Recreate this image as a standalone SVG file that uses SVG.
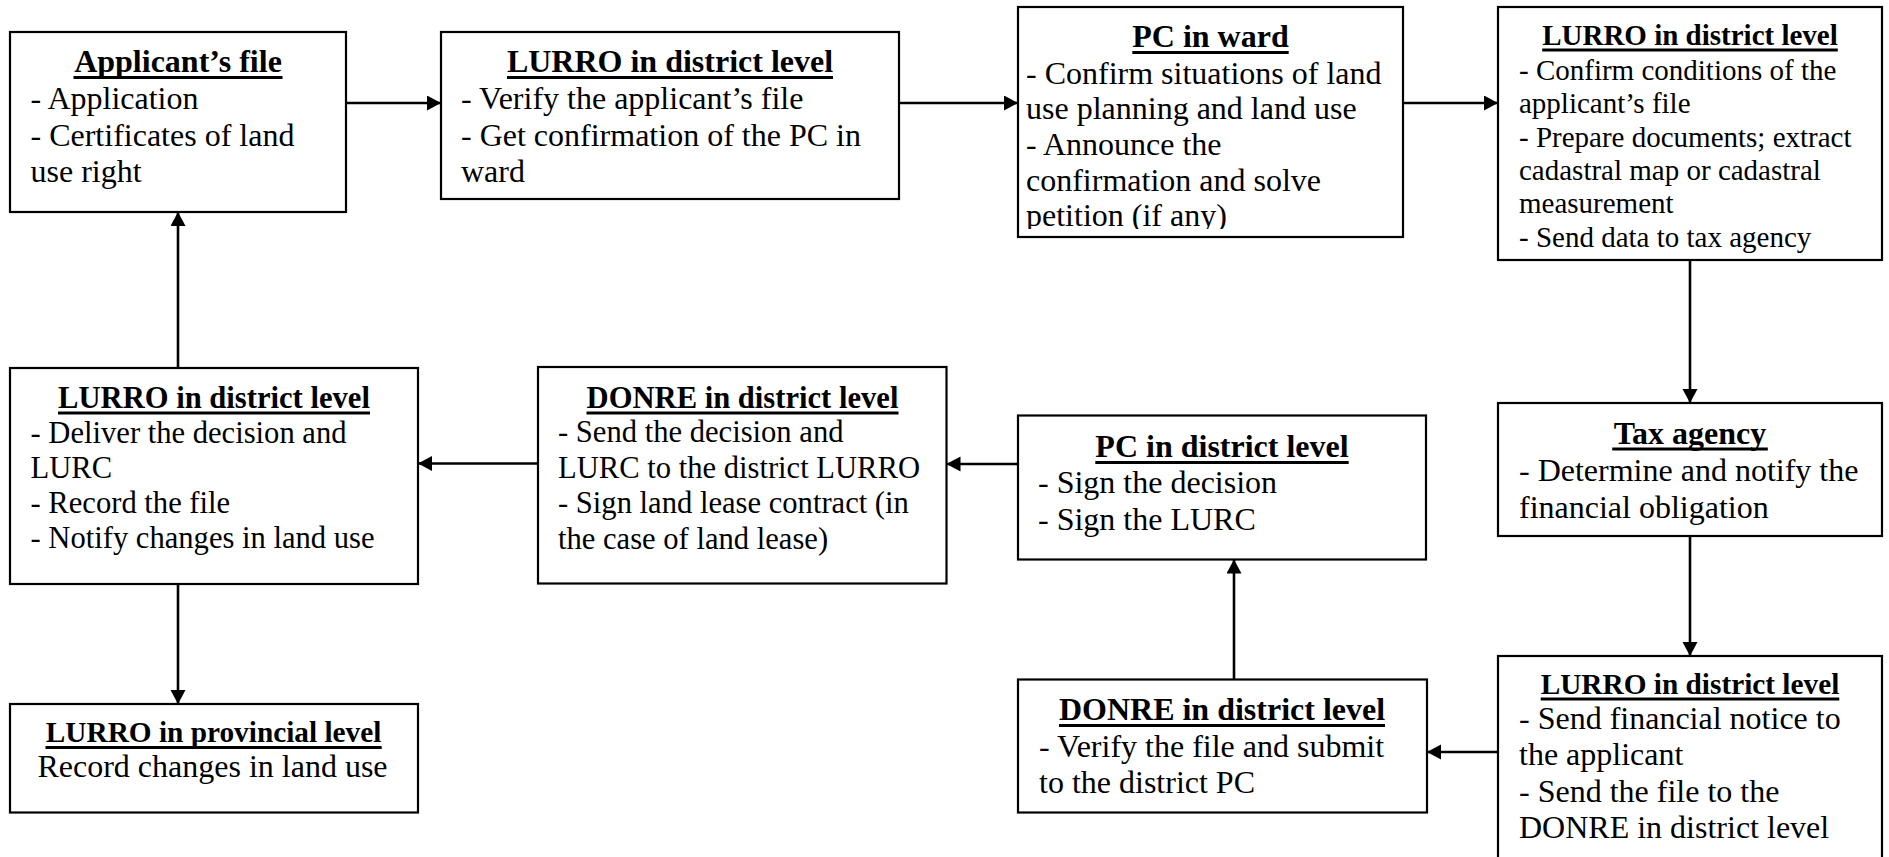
<svg xmlns="http://www.w3.org/2000/svg" width="1889" height="857" viewBox="0 0 1889 857">
<style>
.box{fill:#fff;stroke:#000;stroke-width:2.2}
.t{font-family:"Liberation Serif","Times New Roman",serif;font-weight:bold;text-anchor:middle;fill:#000}
.b{font-family:"Liberation Serif","Times New Roman",serif;fill:#000}
.u{stroke:#000;stroke-width:3}
.c{stroke:#000;stroke-width:2.6;fill:none}
</style>
<defs>
<marker id="ah" markerUnits="userSpaceOnUse" markerWidth="15" markerHeight="16" refX="14" refY="7.5" orient="auto">
<path d="M0,0 L14,7.5 L0,15 z" fill="#000"/>
</marker>
<clipPath id="clip3"><rect x="1018" y="7" width="385" height="222"/></clipPath>
</defs>
<rect width="1889" height="857" fill="#fff"/>

<g id="connectors">
<line class="c" x1="346" y1="103" x2="441" y2="103" marker-end="url(#ah)"/>
<line class="c" x1="899" y1="103" x2="1018" y2="103" marker-end="url(#ah)"/>
<line class="c" x1="1403" y1="103" x2="1498" y2="103" marker-end="url(#ah)"/>
<line class="c" x1="1690" y1="260" x2="1690" y2="403" marker-end="url(#ah)"/>
<line class="c" x1="1690" y1="536" x2="1690" y2="656" marker-end="url(#ah)"/>
<line class="c" x1="1498" y1="752" x2="1427" y2="752" marker-end="url(#ah)"/>
<line class="c" x1="1234" y1="679.5" x2="1234" y2="559.5" marker-end="url(#ah)"/>
<line class="c" x1="1018" y1="464" x2="946.5" y2="464" marker-end="url(#ah)"/>
<line class="c" x1="538" y1="463.5" x2="418" y2="463.5" marker-end="url(#ah)"/>
<line class="c" x1="178" y1="368" x2="178" y2="212" marker-end="url(#ah)"/>
<line class="c" x1="178" y1="584" x2="178" y2="704" marker-end="url(#ah)"/>
</g>

<g id="applicant-file">
<rect class="box" x="10" y="32" width="336" height="180"/>
<text class="t" x="178" y="72" font-size="32">Applicant’s file</text>
<line class="u" x1="73.5" y1="77.5" x2="282.5" y2="77.5"/>
<text class="b" font-size="32"><tspan x="30.5" y="109">- Application</tspan><tspan x="30.5" y="145.5">- Certificates of land</tspan><tspan x="30.5" y="182">use right</tspan></text>
</g>

<g id="lurro-district-verify">
<rect class="box" x="441" y="32" width="458" height="167"/>
<text class="t" x="670" y="72" font-size="32">LURRO in district level</text>
<line class="u" x1="507" y1="77.5" x2="833" y2="77.5"/>
<text class="b" font-size="32"><tspan x="461" y="109">- Verify the applicant’s file</tspan><tspan x="461" y="145.5">- Get confirmation of the PC in</tspan><tspan x="461" y="182">ward</tspan></text>
</g>

<g id="pc-ward">
<rect class="box" x="1018" y="7" width="385" height="230"/>
<g clip-path="url(#clip3)">
<text class="t" x="1210.5" y="47" font-size="32">PC in ward</text>
<line class="u" x1="1132.3" y1="52.5" x2="1288.7" y2="52.5"/>
<text class="b" font-size="32"><tspan x="1026" y="84">- Confirm situations of land</tspan><tspan x="1026" y="119">use planning and land use</tspan><tspan x="1026" y="155">- Announce the</tspan><tspan x="1026" y="190.5">confirmation and solve</tspan><tspan x="1026" y="226">petition (if any)</tspan></text>
</g>
</g>

<g id="lurro-district-confirm">
<rect class="box" x="1498" y="7" width="384" height="253"/>
<text class="t" x="1690" y="45" font-size="29">LURRO in district level</text>
<line class="u" x1="1542.2" y1="50" x2="1837.8" y2="50"/>
<text class="b" font-size="29"><tspan x="1519" y="79.7">- Confirm conditions of the</tspan><tspan x="1519" y="113.1">applicant’s file</tspan><tspan x="1519" y="146.5">- Prepare documents; extract</tspan><tspan x="1519" y="179.9">cadastral map or cadastral</tspan><tspan x="1519" y="213.3">measurement</tspan><tspan x="1519" y="246.7">- Send data to tax agency</tspan></text>
</g>

<g id="tax-agency">
<rect class="box" x="1498" y="403" width="384" height="133"/>
<text class="t" x="1690" y="443.5" font-size="32">Tax agency</text>
<line class="u" x1="1612.2" y1="449" x2="1767.8" y2="449"/>
<text class="b" font-size="32"><tspan x="1519" y="481">- Determine and notify the</tspan><tspan x="1519" y="517.5">financial obligation</tspan></text>
</g>

<g id="lurro-district-send">
<rect class="box" x="1498" y="656" width="384" height="230"/>
<text class="t" x="1690" y="693.5" font-size="29.3">LURRO in district level</text>
<line class="u" x1="1540.7" y1="699" x2="1839.3" y2="699"/>
<text class="b" font-size="32"><tspan x="1519" y="728.5">- Send financial notice to</tspan><tspan x="1519" y="765">the applicant</tspan><tspan x="1519" y="801.5">- Send the file to the</tspan><tspan x="1519" y="838">DONRE in district level</tspan></text>
</g>

<g id="donre-district-verify">
<rect class="box" x="1018" y="679.5" width="409" height="133"/>
<text class="t" x="1222" y="720" font-size="32">DONRE in district level</text>
<line class="u" x1="1059" y1="725.5" x2="1385" y2="725.5"/>
<text class="b" font-size="32"><tspan x="1039" y="756.5">- Verify the file and submit</tspan><tspan x="1039" y="793">to the district PC</tspan></text>
</g>

<g id="pc-district">
<rect class="box" x="1018" y="415.5" width="408" height="144"/>
<text class="t" x="1222" y="457" font-size="32">PC in district level</text>
<line class="u" x1="1095.3" y1="462.5" x2="1348.7" y2="462.5"/>
<text class="b" font-size="32"><tspan x="1038" y="493">- Sign the decision</tspan><tspan x="1038" y="529.5">- Sign the LURC</tspan></text>
</g>

<g id="donre-district-send">
<rect class="box" x="538" y="367" width="408.5" height="216.5"/>
<text class="t" x="742.5" y="407.5" font-size="30.6">DONRE in district level</text>
<line class="u" x1="586.5" y1="413" x2="898.5" y2="413"/>
<text class="b" font-size="30.6"><tspan x="558" y="442">- Send the decision and</tspan><tspan x="558" y="477.5">LURC to the district LURRO</tspan><tspan x="558" y="513">- Sign land lease contract (in</tspan><tspan x="558" y="548.5">the case of land lease)</tspan></text>
</g>

<g id="lurro-district-deliver">
<rect class="box" x="10" y="368" width="408" height="216"/>
<text class="t" x="214" y="407.5" font-size="30.6">LURRO in district level</text>
<line class="u" x1="58" y1="413" x2="370" y2="413"/>
<text class="b" font-size="30.6"><tspan x="30.5" y="442.5">- Deliver the decision and</tspan><tspan x="30.5" y="477.5">LURC</tspan><tspan x="30.5" y="512.5">- Record the file</tspan><tspan x="30.5" y="547.5">- Notify changes in land use</tspan></text>
</g>

<g id="lurro-provincial">
<rect class="box" x="10" y="704" width="408" height="108.5"/>
<text class="t" x="213.6" y="742" font-size="29.3">LURRO in provincial level</text>
<line class="u" x1="45.5" y1="747.5" x2="381.7" y2="747.5"/>
<text class="b" x="212.5" y="777" font-size="32" text-anchor="middle">Record changes in land use</text>
</g>
</svg>
